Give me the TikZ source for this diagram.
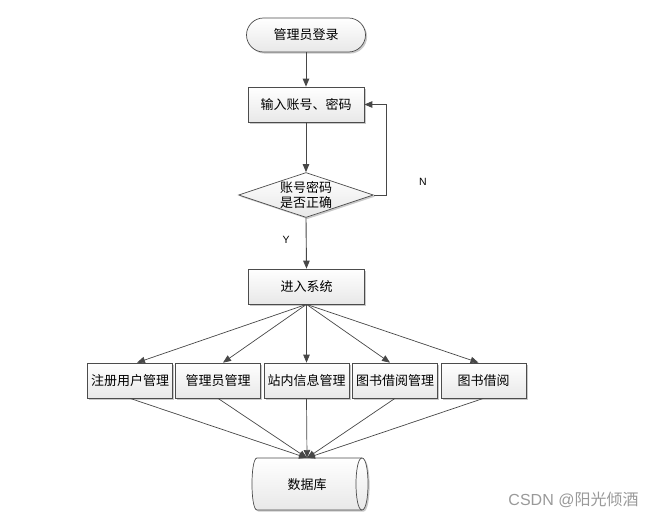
\documentclass[tikz,border=0pt]{standalone}
\usepackage{fontspec}
\setmainfont{Liberation Sans}
\newfontfamily\cjk{Noto Sans CJK SC}
\usetikzlibrary{shapes.geometric,shapes.misc,arrows.meta,shadows,calc}
\begin{document}
\begin{tikzpicture}[x=1pt,y=-1pt,
  cjkfont/.style={font=\cjk\fontsize{13}{15.5}\selectfont},
  base/.style={draw=black!70, line width=0.7pt, top color=white, bottom color=black!9,
    drop shadow={shadow xshift=1.6pt, shadow yshift=-1.6pt, fill=black!30, opacity=0.7},
    cjkfont, inner sep=0pt},
  procbox/.style={base, rectangle, minimum width=116pt, minimum height=35pt},
  modbox/.style={base, rectangle, minimum width=85pt, minimum height=35pt},
  termbox/.style={base, rounded rectangle, minimum width=119pt, minimum height=34pt},
  decbox/.style={base, diamond, minimum width=135pt, minimum height=45pt},
  arr/.style={draw=black!72, line width=0.9pt, -{Triangle[length=8pt,width=6.5pt]}},
  thinarr/.style={draw=black!72, line width=0.7pt, -{Triangle[length=8pt,width=6.5pt]}},
  lbl/.style={font=\fontsize{10.5}{12}\selectfont}
]
\useasboundingbox (0,0) rectangle (656,519);

\node[termbox] (start) at (306,35) {管理员登录};
\node[procbox] (input) at (306,104.5) {输入账号、密码};
\node[decbox] (dec) at (306,195) {};
\node[cjkfont, align=center, inner sep=0pt] (dectext) at (dec.center) {账号密码\\是否正确};
\node[procbox] (sys) at (306.5,286.5) {进入系统};

\node[modbox] (m1) at (130,380.5) {注册用户管理};
\node[modbox] (m2) at (218,380.5) {管理员管理};
\node[modbox] (m3) at (306.5,380.5) {站内信息管理};
\node[modbox] (m4) at (395,380.5) {图书借阅管理};
\node[modbox] (m5) at (483.5,380.5) {图书借阅};

% database cylinder
\path[draw=black!70, line width=0.7pt, top color=white, bottom color=black!9,
    drop shadow={shadow xshift=1.6pt, shadow yshift=-1.6pt, fill=black!30, opacity=0.7}]
  (257,458) -- (362,458) .. controls (370,458) and (370,510) .. (362,510)
  -- (257,510) .. controls (250.3,510) and (250.3,458) .. (257,458) -- cycle;
\draw[black!70, line width=0.7pt] (362,458) .. controls (354,458) and (354,510) .. (362,510);
\node[cjkfont, minimum width=116pt, minimum height=52pt, inner sep=0pt] (db) at (307,484.5) {数据库};
\coordinate (dbin) at (307,458);

\draw[arr] (start.south) -- (input.north);
\draw[arr] (input.south) -- (dec.north);
\draw[arr] (dec.east) -- ++(13,0) |- (input.east);
\draw[arr] (dec.south) -- (sys.north);

\node[lbl] (nlab) at (423,182) {N};
\node[lbl] (ylab) at (286,240) {Y};

\draw[thinarr] (sys.south) -- ($(m1.north)+(7,0)$);
\draw[thinarr] (sys.south) -- ($(m2.north)+(5,0)$);
\draw[thinarr] (sys.south) -- (m3.north);
\draw[thinarr] (sys.south) -- ($(m4.north)+(-5,0)$);
\draw[thinarr] (sys.south) -- ($(m5.north)+(-5,0)$);

\draw[thinarr] (m1.south) -- (dbin);
\draw[thinarr] (m2.south) -- (dbin);
\draw[thinarr] (m3.south) -- (dbin);
\draw[thinarr] (m4.south) -- (dbin);
\draw[thinarr] (m5.south) -- (dbin);

\node[text=black!40, font=\fontsize{16}{18}\selectfont, inner sep=0pt] (wm) at (573.5,500) {CSDN @{\cjk 阳光倾酒}};
\end{tikzpicture}
\end{document}
